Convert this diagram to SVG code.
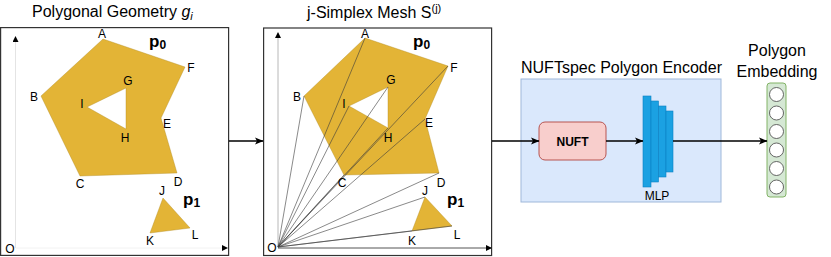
<svg xmlns="http://www.w3.org/2000/svg" width="831" height="257" viewBox="0 0 831 257">
<style>
text{font-family:"Liberation Sans",Arial,sans-serif;fill:#000}
.t{font-size:16px}
.v{font-size:12px;text-anchor:middle}
.p{font-size:17px;font-weight:bold}
.frame{fill:#fff;stroke:#333;stroke-width:1.2}
.poly{fill:#e3b436;fill-rule:evenodd;stroke:#b08a20;stroke-width:0.4}
.mesh{stroke:#3a3a3a;stroke-width:0.6;fill:none}
.conn{stroke:#000;stroke-width:1.6;fill:none;marker-end:url(#arr)}
.bar{fill:#1ba1e2;stroke:#0b7fc2;stroke-width:0.6}
.cell{fill:#fff;stroke:#555;stroke-width:0.9}
</style>
<defs>
<marker id="arr" markerWidth="9" markerHeight="8" refX="8" refY="4" orient="auto" markerUnits="userSpaceOnUse">
<path d="M0,0.5 L8.5,4 L0,7.5 L2,4 z" fill="#000"/>
</marker>
<marker id="ax" markerWidth="6" markerHeight="6" refX="5" refY="3" orient="auto" markerUnits="userSpaceOnUse">
<path d="M0,0 L6,3 L0,6 z" fill="#000"/>
</marker>
</defs>

<g id="panel-geometry">
<text class="t" x="32" y="17">Polygonal Geometry <tspan font-style="italic">g</tspan><tspan font-size="11" font-style="italic" dy="3">i</tspan></text>
<rect class="frame" x="0.6" y="27.6" width="228" height="227.8"/>
<line x1="15.5" y1="248" x2="15.5" y2="37" stroke="#e4e4e4" stroke-width="1" marker-end="url(#ax)"/>
<line x1="15.5" y1="248" x2="227" y2="248" stroke="#f2f2f2" stroke-width="1" marker-end="url(#ax)"/>
<path class="poly" d="M103,39 L185,67 L161,118 L177,173 L80,176 L41,96 Z M126,88 L87,107 L126,129 Z"/>
<path class="poly" d="M163,198 L190,228 L150,233 Z"/>
<text class="v" x="102" y="38">A</text>
<text class="v" x="191" y="72">F</text>
<text class="v" x="128" y="85">G</text>
<text class="v" x="34" y="101">B</text>
<text class="v" x="82" y="108">I</text>
<text class="v" x="167" y="128">E</text>
<text class="v" x="125" y="142">H</text>
<text class="v" x="80" y="188">C</text>
<text class="v" x="178" y="186">D</text>
<text class="v" x="162" y="195">J</text>
<text class="v" x="150" y="245">K</text>
<text class="v" x="195" y="239">L</text>
<text class="v" x="10" y="253">O</text>
<text class="p" x="149" y="47">p<tspan font-size="12" dy="2">0</tspan></text>
<text class="p" x="183" y="205">p<tspan font-size="12" dy="2">1</tspan></text>
</g>

<g id="panel-mesh">
<text class="t" x="307" y="18">j-Simplex Mesh S<tspan font-size="11" dy="-6">(j)</tspan></text>
<rect class="frame" x="263.6" y="28" width="228" height="227.5"/>
<line x1="278" y1="247.5" x2="278" y2="33" stroke="#b8b8b8" stroke-width="1" marker-end="url(#ax)"/>
<line x1="278" y1="248" x2="491" y2="248" stroke="#555" stroke-width="1" marker-end="url(#ax)"/>
<path class="poly" d="M365,38 L448,66 L425,119 L439,173 L344,175 L304,96 Z M388,87 L349,106 L388,128 Z"/>
<path class="poly" d="M425,197 L452,226 L412,231 Z"/>
<g class="mesh">
<line x1="278" y1="247" x2="365" y2="38"/>
<line x1="278" y1="247" x2="448" y2="66"/>
<line x1="278" y1="247" x2="425" y2="119"/>
<line x1="278" y1="247" x2="439" y2="173"/>
<line x1="278" y1="247" x2="344" y2="175"/>
<line x1="278" y1="247" x2="304" y2="96"/>
<line x1="278" y1="247" x2="388" y2="87"/>
<line x1="278" y1="247" x2="349" y2="106"/>
<line x1="278" y1="247" x2="388" y2="128"/>
<line x1="278" y1="247" x2="425" y2="197"/>
<line x1="278" y1="247" x2="452" y2="226"/>
<line x1="278" y1="247" x2="412" y2="231"/>
</g>
<text class="v" x="365" y="38">A</text>
<text class="v" x="454" y="72">F</text>
<text class="v" x="391" y="84">G</text>
<text class="v" x="297" y="101">B</text>
<text class="v" x="344" y="108">I</text>
<text class="v" x="429" y="127">E</text>
<text class="v" x="388" y="142">H</text>
<text class="v" x="342" y="187">C</text>
<text class="v" x="441" y="187">D</text>
<text class="v" x="425" y="195">J</text>
<text class="v" x="412" y="245">K</text>
<text class="v" x="457" y="239">L</text>
<text class="v" x="272" y="252">O</text>
<text class="p" x="413" y="47">p<tspan font-size="12" dy="2">0</tspan></text>
<text class="p" x="447" y="205">p<tspan font-size="12" dy="2">1</tspan></text>
</g>

<g id="encoder">
<rect x="521" y="79" width="200" height="123" fill="#dae8fc" stroke="#9fb8da" stroke-width="1"/>
<text class="t" x="521" y="73">NUFTspec Polygon Encoder</text>
</g>

<g id="nuft">
<rect x="539" y="122" width="67" height="38" rx="6" fill="#f8cecc" stroke="#b85450" stroke-width="1"/>
<text x="572.5" y="145.5" font-size="12" font-weight="bold" text-anchor="middle">NUFT</text>
</g>

<g id="mlp">
<rect class="bar" x="643" y="96" width="8" height="91"/>
<rect class="bar" x="651" y="101" width="7.5" height="81"/>
<rect class="bar" x="658.5" y="106" width="7.5" height="71"/>
<rect class="bar" x="666" y="111" width="7" height="61"/>
<text x="657" y="200" font-size="12" text-anchor="middle">MLP</text>
</g>

<g id="embedding">
<text class="t" x="777" y="56" text-anchor="middle">Polygon</text>
<text class="t" x="777" y="77" text-anchor="middle">Embedding</text>
<rect x="767" y="83" width="19" height="114" rx="3" fill="#d5e8d4" stroke="#82b366" stroke-width="1"/>
<circle class="cell" cx="776.5" cy="94.5" r="7"/>
<circle class="cell" cx="776.5" cy="113" r="7"/>
<circle class="cell" cx="776.5" cy="131.5" r="7"/>
<circle class="cell" cx="776.5" cy="150" r="7"/>
<circle class="cell" cx="776.5" cy="168.5" r="7"/>
<circle class="cell" cx="776.5" cy="187" r="7"/>
</g>

<g id="connectors">
<line class="conn" x1="229" y1="141" x2="263" y2="141"/>
<line class="conn" x1="492" y1="141" x2="539" y2="141"/>
<line class="conn" x1="606" y1="141" x2="643" y2="141"/>
<line class="conn" x1="673" y1="141" x2="767" y2="141"/>
</g>
</svg>
